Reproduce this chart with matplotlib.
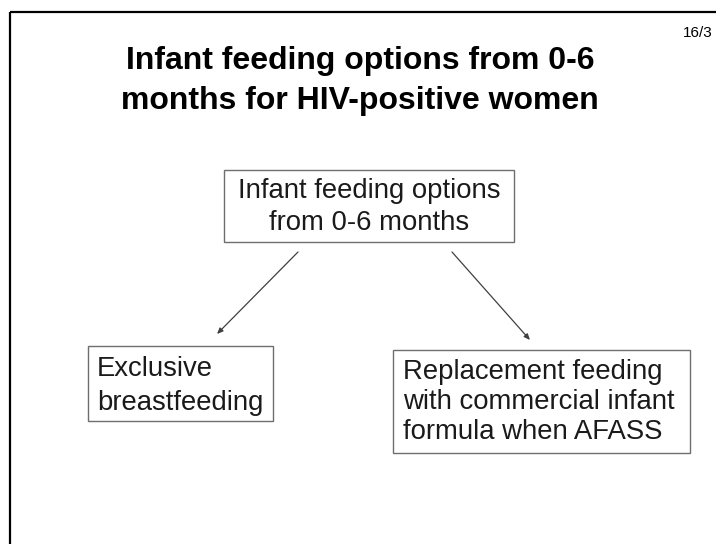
import matplotlib.pyplot as plt
from matplotlib.patches import Rectangle

plt.rcParams['font.family'] = ['Liberation Sans', 'DejaVu Sans']

# slide content
title_lines = ['Infant feeding options from 0-6', 'months for HIV-positive women']
page_label = '16/3'
top_box = ['Infant feeding options', 'from 0-6 months']
left_box = ['Exclusive', 'breastfeeding']
right_box = ['Replacement feeding', 'with commercial infant', 'formula when AFASS']

fig = plt.figure(figsize=(7.16, 5.44), dpi=100)
ax = fig.add_axes([0, 0, 1, 1])
ax.set_xlim(0, 716)
ax.set_ylim(544, 0)
ax.axis('off')

# slide frame (top and left only)
ax.plot([10, 716], [12, 12], color='black', lw=1.6, solid_capstyle='butt')
ax.plot([10, 10], [12, 544], color='black', lw=1.6, solid_capstyle='butt')

ax.text(713, 33, page_label, fontsize=11, ha='right', va='center')

ax.text(360, 81, '\n'.join(title_lines), fontsize=23, fontweight='bold',
        ha='center', va='center', multialignment='center', linespacing=1.42)


def box(x0, y0, x1, y1):
    r = Rectangle((x0, y0), x1 - x0, y1 - y0, facecolor='white',
                  edgecolor='#6e6e6e', lw=1.0)
    ax.add_patch(r)


box(224, 170, 514, 242)
ax.text(369, 207, '\n'.join(top_box), fontsize=19.8, color='#1a1a1a',
        ha='center', va='center', multialignment='center', linespacing=1.25)

box(88, 346, 273, 421)
ax.text(97, 386, '\n'.join(left_box), fontsize=19.8, color='#1a1a1a',
        ha='left', va='center', linespacing=1.35)

box(393, 350, 690, 453)
ax.text(403, 402, '\n'.join(right_box), fontsize=19.8, color='#1a1a1a',
        ha='left', va='center', linespacing=1.18)

# arrows
arrow = dict(arrowstyle='-|>,head_length=0.35,head_width=0.15', color='#404040', lw=0.9,
             shrinkA=0, shrinkB=0)
ax.annotate('', xy=(217, 334), xytext=(298, 252), arrowprops=arrow)
ax.annotate('', xy=(530, 340), xytext=(452, 252), arrowprops=arrow)

plt.savefig('out.png', dpi=100)
plt.close()
